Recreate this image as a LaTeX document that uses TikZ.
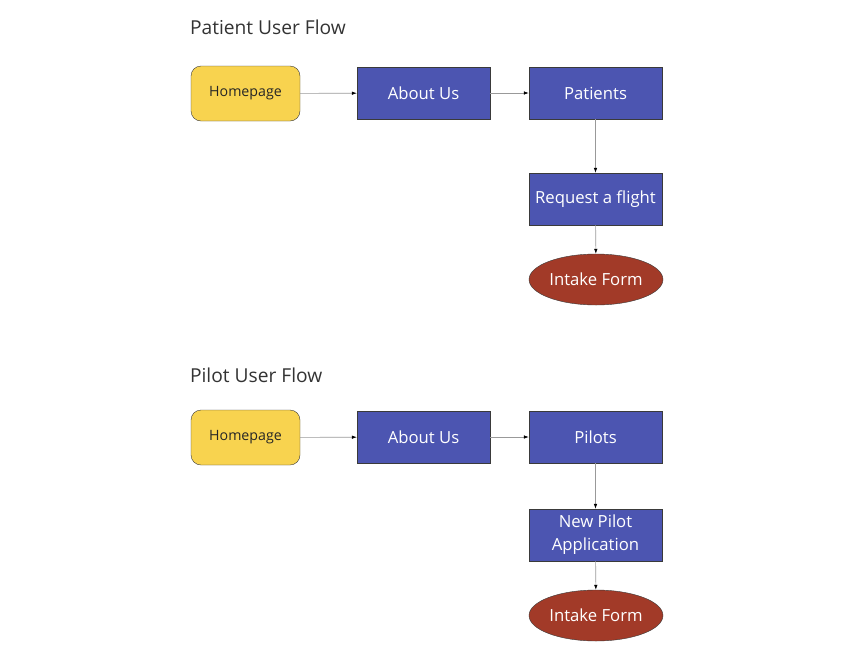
\documentclass[tikz,border=0pt]{standalone}
\usepackage{fontspec}
\setmainfont{Open Sans}
\usepackage{xcolor}
\usetikzlibrary{arrows.meta, positioning, shapes.geometric}

\definecolor{homeyellow}{HTML}{F8D34F}
\definecolor{pageblue}{HTML}{4C55B1}
\definecolor{formred}{HTML}{A23A28}
\definecolor{edgegray}{HTML}{3A3A3A}

\begin{document}
\begin{tikzpicture}[
    x=1pt, y=-1pt,
    home/.style  = {draw=edgegray, rectangle, rounded corners=10pt, fill=homeyellow,
                    minimum width=109pt, minimum height=55pt,
                    align=center, font=\fontsize{14.2}{17}\selectfont, text=black!85},
    page/.style  = {draw=edgegray, rectangle, fill=pageblue, text=white,
                    minimum width=133pt, minimum height=52pt, inner sep=2pt,
                    align=center, font=\fontsize{16.7}{23}\selectfont},
    form/.style  = {draw=edgegray, ellipse, fill=formred, text=white,
                    minimum width=134pt, minimum height=51pt, inner sep=0pt,
                    align=center, font=\fontsize{16.7}{19}\selectfont},
    ttl/.style   = {anchor=west, font=\fontsize{19.2}{23}\selectfont, text=black!80},
    arr/.style   = {-{Latex[length=5pt, width=3.5pt, color=black]}, draw=gray!80, line width=0.6pt},
]
    \useasboundingbox (0,0) rectangle (849,665);

    % ── Patient flow ──
    \node[ttl] (pttl) at (186.5, 27) {Patient User Flow};
    \node[home] (phome) at (245.5, 93.5) {Homepage};
    \node[page] (pabout) at (423.5, 93) {About Us};
    \node[page] (ppat) at (595.5, 93) {Patients};
    \node[page] (preq) at (595.5, 199) {Request a flight};
    \node[form] (pform) at (596, 279.5) {Intake Form};

    \draw[arr] (phome) -- (pabout);
    \draw[arr] (pabout) -- (ppat);
    \draw[arr] (ppat) -- (preq);
    \draw[arr] (preq) -- (pform);

    % ── Pilot flow ──
    \node[ttl] (lttl) at (186.5, 375) {Pilot User Flow};
    \node[home] (lhome) at (245.5, 437.5) {Homepage};
    \node[page] (labout) at (423.5, 437) {About Us};
    \node[page] (lpil) at (595.5, 437) {Pilots};
    \node[page] (lnew) at (595.5, 535) {New Pilot\\Application};
    \node[form] (lform) at (596, 615.5) {Intake Form};

    \draw[arr] (lhome) -- (labout);
    \draw[arr] (labout) -- (lpil);
    \draw[arr] (lpil) -- (lnew);
    \draw[arr] (lnew) -- (lform);

\end{tikzpicture}
\end{document}
